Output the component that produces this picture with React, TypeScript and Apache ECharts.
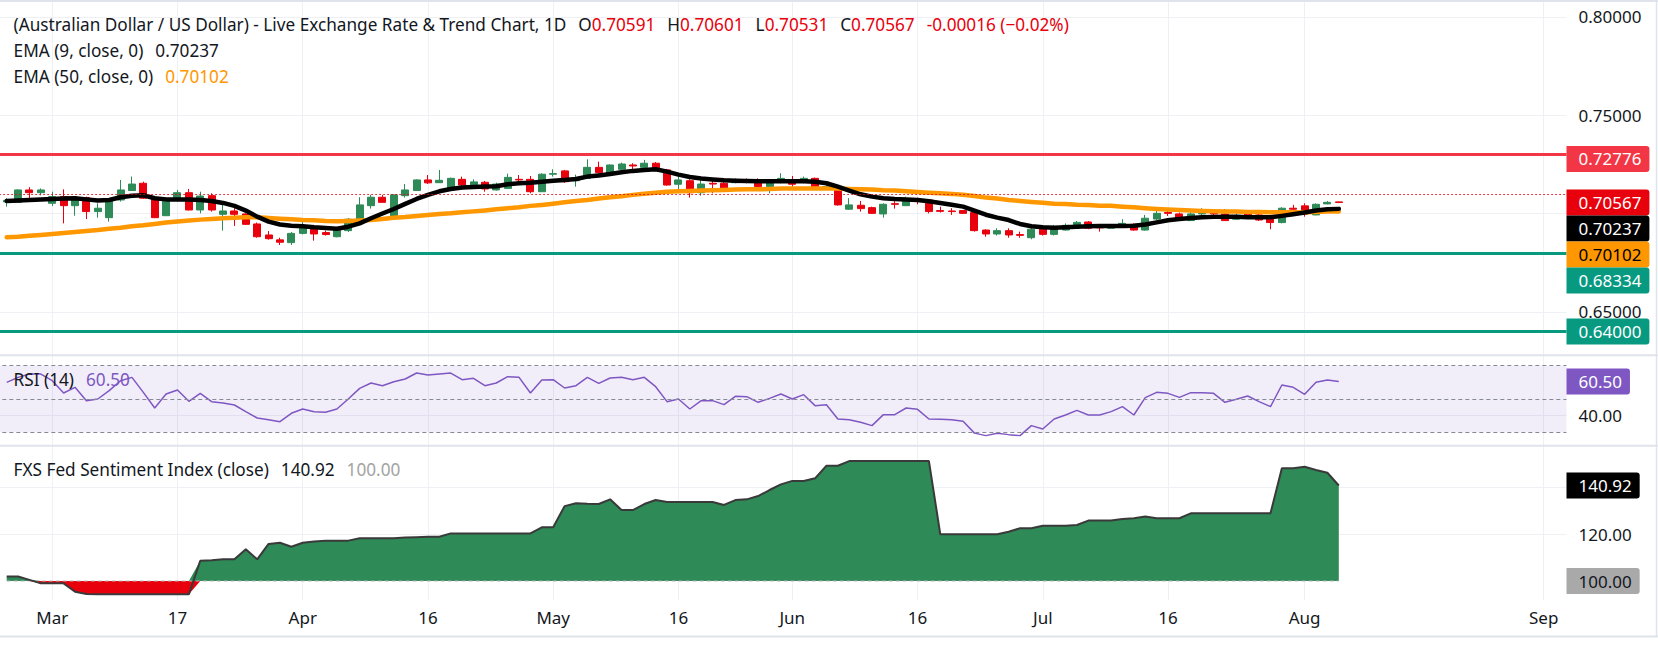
import React, { useEffect, useRef } from "react";
import * as echarts from "echarts";

const W = 1658;
const H = 647;
const FONT = '"Noto Sans", "DejaVu Sans", sans-serif';

// ---- data (daily bars, oldest first) ----
const OPEN = [
  0.7059, 0.7057, 0.7120, 0.7106, 0.7052, 0.7086, 0.7040, 0.7081, 0.7010, 0.6979,
  0.7069, 0.7117, 0.7154, 0.7078, 0.6989, 0.7069, 0.7106, 0.7018, 0.7091, 0.6996,
  0.7013, 0.6998, 0.6947, 0.6891, 0.6866, 0.6852, 0.6899, 0.6925, 0.6903, 0.6882,
  0.6913, 0.6971, 0.7040, 0.7083, 0.6988, 0.7091, 0.7117, 0.7171, 0.7157, 0.7120,
  0.7174, 0.7147, 0.7159, 0.7120, 0.7128, 0.7174, 0.7174, 0.7111, 0.7200, 0.7217,
  0.7167, 0.7179, 0.7235, 0.7205, 0.7225, 0.7247, 0.7235, 0.7256, 0.7222, 0.7149,
  0.7167, 0.7106, 0.7154, 0.7154, 0.7157, 0.7169, 0.7171, 0.7137, 0.7161, 0.7171,
  0.7159, 0.7179, 0.7133, 0.7137, 0.7022, 0.7042, 0.7030, 0.6998, 0.7050, 0.7040,
  0.7072, 0.7069, 0.7015, 0.7013, 0.7015, 0.7005, 0.6916, 0.6896, 0.6913, 0.6893,
  0.6877, 0.6920, 0.6894, 0.6916, 0.6933, 0.6957, 0.6930, 0.6925, 0.6940, 0.6945,
  0.6916, 0.6972, 0.7006, 0.6998, 0.6964, 0.6998, 0.7005, 0.6998, 0.6971, 0.7001,
  0.6993, 0.6979, 0.6954, 0.7027, 0.7039, 0.6993, 0.7049, 0.70591,
];
const CLOSE = [
  0.7067, 0.7120, 0.7106, 0.7120, 0.7086, 0.7040, 0.7078, 0.7010, 0.7027, 0.7074,
  0.7120, 0.7150, 0.7078, 0.6979, 0.7074, 0.7106, 0.7018, 0.7089, 0.7018, 0.7013,
  0.6996, 0.6945, 0.6882, 0.6872, 0.6854, 0.6899, 0.6928, 0.6896, 0.6893, 0.6920,
  0.6971, 0.7044, 0.7083, 0.7057, 0.7095, 0.7120, 0.7171, 0.7156, 0.7169, 0.7179,
  0.7145, 0.7161, 0.7125, 0.7150, 0.7184, 0.7171, 0.7111, 0.7200, 0.7203, 0.7162,
  0.7178, 0.7235, 0.7208, 0.7247, 0.7252, 0.7242, 0.7256, 0.7218, 0.7145, 0.7171,
  0.7106, 0.7150, 0.7150, 0.7127, 0.7171, 0.7166, 0.7137, 0.7166, 0.7179, 0.7149,
  0.7179, 0.7125, 0.7137, 0.7044, 0.7044, 0.7025, 0.7001, 0.7047, 0.7047, 0.7072,
  0.7069, 0.7010, 0.7011, 0.7010, 0.7001, 0.6913, 0.6896, 0.6913, 0.6891, 0.6889,
  0.6920, 0.6894, 0.6925, 0.6940, 0.6955, 0.6925, 0.6927, 0.6942, 0.6950, 0.6916,
  0.6976, 0.7001, 0.7001, 0.6974, 0.6998, 0.7001, 0.6998, 0.6964, 0.6989, 0.6989,
  0.6967, 0.6954, 0.7027, 0.7022, 0.6998, 0.7047, 0.7057, 0.70567,
];
const LOW = [
  0.7035, 0.7056, 0.7069, 0.7093, 0.7039, 0.6950, 0.6989, 0.6972, 0.6979, 0.6959,
  0.7061, 0.7115, 0.7074, 0.6977, 0.6988, 0.7061, 0.7016, 0.7001, 0.7010, 0.6913,
  0.6937, 0.6942, 0.6877, 0.6867, 0.6840, 0.6840, 0.6894, 0.6862, 0.6888, 0.6879,
  0.6906, 0.6967, 0.7025, 0.7056, 0.6986, 0.7081, 0.7115, 0.7150, 0.7156, 0.7117,
  0.7132, 0.7142, 0.7111, 0.7117, 0.7125, 0.7154, 0.7103, 0.7110, 0.7188, 0.7157,
  0.7137, 0.7176, 0.7205, 0.7203, 0.7217, 0.7213, 0.7230, 0.7217, 0.7142, 0.7123,
  0.7081, 0.7091, 0.7103, 0.7117, 0.7154, 0.7154, 0.7125, 0.7103, 0.7154, 0.7137,
  0.7154, 0.7123, 0.7123, 0.7040, 0.7018, 0.7010, 0.6998, 0.6979, 0.7025, 0.7039,
  0.7047, 0.7001, 0.7005, 0.6993, 0.6998, 0.6908, 0.6882, 0.6888, 0.6877, 0.6877,
  0.6869, 0.6888, 0.6888, 0.6913, 0.6925, 0.6920, 0.6908, 0.6922, 0.6937, 0.6913,
  0.6913, 0.6967, 0.6988, 0.6967, 0.6962, 0.6991, 0.6981, 0.6962, 0.6967, 0.6981,
  0.6962, 0.6920, 0.6950, 0.7005, 0.6984, 0.6991, 0.7047, 0.70531,
];
const HIGH = [
  0.7078, 0.7123, 0.7134, 0.7128, 0.7111, 0.7123, 0.7086, 0.7086, 0.7052, 0.7078,
  0.7171, 0.7188, 0.7162, 0.7089, 0.7083, 0.7120, 0.7125, 0.7111, 0.7103, 0.7044,
  0.7027, 0.7001, 0.6954, 0.6911, 0.6877, 0.6906, 0.6967, 0.6942, 0.6913, 0.6930,
  0.6976, 0.7083, 0.7095, 0.7095, 0.7098, 0.7150, 0.7174, 0.7196, 0.7222, 0.7183,
  0.7188, 0.7174, 0.7166, 0.7157, 0.7203, 0.7196, 0.7191, 0.7205, 0.7225, 0.7222,
  0.7198, 0.7276, 0.7264, 0.7250, 0.7259, 0.7256, 0.7273, 0.7262, 0.7227, 0.7188,
  0.7174, 0.7174, 0.7171, 0.7162, 0.7179, 0.7179, 0.7179, 0.7174, 0.7205, 0.7191,
  0.7188, 0.7183, 0.7149, 0.7140, 0.7078, 0.7064, 0.7035, 0.7052, 0.7064, 0.7086,
  0.7081, 0.7072, 0.7035, 0.7027, 0.7018, 0.7010, 0.6920, 0.6925, 0.6925, 0.6908,
  0.6930, 0.6933, 0.6942, 0.6950, 0.6962, 0.6962, 0.6945, 0.6947, 0.6971, 0.6950,
  0.6993, 0.7023, 0.7018, 0.7005, 0.7015, 0.7027, 0.7018, 0.7023, 0.7001, 0.7013,
  0.6998, 0.6993, 0.7032, 0.7044, 0.7052, 0.7052, 0.7064, 0.70601,
];
const EMA9 = [
  0.7064, 0.7066, 0.7069, 0.7072, 0.7074, 0.7076, 0.7078, 0.7072, 0.7066, 0.7069,
  0.7083, 0.7091, 0.7093, 0.7078, 0.7072, 0.7072, 0.7072, 0.7069, 0.7064, 0.7054,
  0.7039, 0.7015, 0.6984, 0.6959, 0.6944, 0.6938, 0.6935, 0.6930, 0.6927, 0.6923,
  0.6933, 0.6950, 0.6976, 0.7000, 0.7023, 0.7049, 0.7074, 0.7095, 0.7113, 0.7125,
  0.7132, 0.7135, 0.7137, 0.7139, 0.7149, 0.7154, 0.7157, 0.7162, 0.7167, 0.7171,
  0.7176, 0.7188, 0.7194, 0.7201, 0.7210, 0.7217, 0.7222, 0.7225, 0.7213, 0.7198,
  0.7186, 0.7178, 0.7173, 0.7169, 0.7167, 0.7166, 0.7164, 0.7164, 0.7164, 0.7164,
  0.7164, 0.7162, 0.7154, 0.7137, 0.7117, 0.7098, 0.7086, 0.7078, 0.7074, 0.7072,
  0.7069, 0.7062, 0.7054, 0.7045, 0.7035, 0.7015, 0.6994, 0.6979, 0.6967, 0.6947,
  0.6935, 0.6930, 0.6928, 0.6930, 0.6933, 0.6935, 0.6937, 0.6937, 0.6937, 0.6938,
  0.6944, 0.6955, 0.6966, 0.6972, 0.6977, 0.6981, 0.6983, 0.6984, 0.6983, 0.6981,
  0.6981, 0.6981, 0.6988, 0.6996, 0.7005, 0.7015, 0.7022, 0.70237,
];
const EMA50 = [
  0.6879, 0.6882, 0.6887, 0.6891, 0.6896, 0.6901, 0.6906, 0.6911, 0.6916, 0.6923,
  0.6928, 0.6935, 0.6940, 0.6947, 0.6954, 0.6959, 0.6964, 0.6969, 0.6972, 0.6976,
  0.6979, 0.6981, 0.6981, 0.6977, 0.6974, 0.6971, 0.6967, 0.6966, 0.6962, 0.6961,
  0.6962, 0.6964, 0.6967, 0.6972, 0.6979, 0.6982, 0.6988, 0.6993, 0.6998, 0.7001,
  0.7006, 0.7011, 0.7016, 0.7022, 0.7027, 0.7032, 0.7039, 0.7044, 0.7050, 0.7057,
  0.7064, 0.7069, 0.7076, 0.7083, 0.7088, 0.7095, 0.7101, 0.7106, 0.7111, 0.7113,
  0.7115, 0.7117, 0.7118, 0.7120, 0.7122, 0.7123, 0.7123, 0.7125, 0.7127, 0.7127,
  0.7128, 0.7128, 0.7128, 0.7127, 0.7125, 0.7123, 0.7122, 0.7118, 0.7117, 0.7113,
  0.7110, 0.7106, 0.7103, 0.7100, 0.7095, 0.7089, 0.7081, 0.7076, 0.7069, 0.7064,
  0.7059, 0.7055, 0.7050, 0.7049, 0.7045, 0.7044, 0.7040, 0.7039, 0.7035, 0.7032,
  0.7027, 0.7023, 0.7020, 0.7018, 0.7015, 0.7013, 0.7011, 0.7010, 0.7010, 0.7008,
  0.7008, 0.7006, 0.7006, 0.7006, 0.7006, 0.7008, 0.7010, 0.70102,
];
const RSI = [
  60, 63, 65, 65, 61, 53.6, 57, 49, 50, 55,
  61, 63, 54, 44.6, 53, 55.4, 48.6, 53.4, 48.4, 47.6,
  46.4, 42.4, 38.6, 37.6, 36.4, 41.4, 44, 42.4, 42, 44,
  50, 56.4, 59.6, 58, 60.4, 62, 65.6, 64.4, 65, 65.6,
  61.6, 62.4, 58, 59.6, 63.4, 63, 53.6, 61.4, 61.6, 56.6,
  58, 63, 59.4, 62.6, 63, 61.6, 63, 57.4, 48.4, 50,
  44, 49, 49, 46.6, 51.6, 51.4, 48, 50.4, 53, 50,
  52.6, 46, 46.6, 38, 37.6, 36, 34, 40.6, 40.6, 44.6,
  43.8, 38, 37.8, 37.6, 36.6, 29.5, 28, 29.4, 28.6, 28,
  34, 32, 38, 40.4, 43.2, 40.4, 40.4, 42.4, 45.4, 40.4,
  50.8, 54, 53.4, 51, 53.8, 53.8, 53.4, 48, 49.8, 51.8,
  48.4, 45.4, 58.4, 57, 52.8, 60, 61.4, 60.5,
];
const FXS = [
  101.9, 101.9, 100.5, 99, 99, 99, 95.4, 94.4, 94.3, 94.3,
  94.3, 94.3, 94.3, 94.3, 94.3, 94.3, 94.3, 108.7, 108.9, 109.3,
  109.3, 113.6, 109.3, 115.9, 116.4, 114.7, 116.4, 116.9, 117.3, 117.3,
  117.3, 118.3, 118.3, 118.3, 118.3, 118.6, 118.8, 119, 119, 120.4,
  120.4, 120.4, 120.4, 120.4, 120.4, 120.4, 120.4, 123, 123, 132.1,
  133.3, 133.1, 133, 135, 130.4, 130.4, 133, 134.7, 133.9, 133.9,
  133.9, 133.9, 133.9, 132.6, 134.7, 135, 136.4, 139, 141.4, 142.9,
  142.9, 144, 149.4, 149.4, 151.4, 151.4, 151.4, 151.4, 151.4, 151.4,
  151.4, 151.4, 120, 120, 120, 120, 120, 120, 121.1, 122.6,
  122.6, 123.7, 123.7, 123.7, 124, 125.9, 125.9, 125.9, 126.6, 126.9,
  127.6, 126.9, 126.9, 126.9, 129, 129, 129, 129, 129, 129,
  129, 129, 148.3, 148.3, 149, 147.6, 146.4, 140.92,
];

const TIME_LABELS = ["Mar", "17", "Apr", "16", "May", "16", "Jun", "16", "Jul", "16", "Aug", "Sep"];
const TIME_LABEL_BARS = [4, 15, 26, 37, 48, 59, 69, 80, 91, 102, 114, 135];

const PRICE_GRID = [0.65, 0.7, 0.75, 0.8];
const PRICE_LABELS = [0.65, 0.75, 0.8];
const RSI_GRID = [40];
const RSI_LABELS = [40];
const RSI_LEVELS = [70, 50, 30];
const FXS_GRID = [120, 140];
const FXS_LABELS = [120];
const FXS_BASE = 100;

const RESISTANCE = 0.72776;
const SUPPORT_1 = 0.68334;
const SUPPORT_2 = 0.64;
const LAST = { open: 0.70591, high: 0.70601, low: 0.70531, close: 0.70567 };
const CHANGE = -0.00016;
const CHANGE_PCT = -0.02;

// ---- styling ----
const UP = "#2e8a57";
const DOWN = "#e8000d";
const TXT = "#131722";
const GRIDLINE = "#eef0f4";
const SEP = "#e0e3eb";
const PURPLE = "#7e57c2";
const ORANGE = "#ff9800";
const TEAL = "#089981";
const RES_RED = "#f23645";
const AXIS_FS = 17;
const LEGEND_FS = 17.2;

const SLOTS = 139; // one spare slot before the first bar, future slots after the last
const slotOf = (i: number) => i + 1;
const labelBySlot = new Map<number, string>();
TIME_LABEL_BARS.forEach((b, k) => labelBySlot.set(slotOf(b), TIME_LABELS[k]));
const CATS = Array.from({ length: SLOTS }, (_, k) => String(k));

const GRID_LEFT = -4.67;
const GRID_RIGHT = 91.5;
const PANES = [
  { top: 2, height: 353, min: 0.62802, max: 0.80763 },
  { top: 356, height: 89, min: 22.37, max: 75.83 },
  { top: 446.5, height: 153.5, min: 91.86, max: 157.65 },
];

function buildOption(): any {
  const bars = OPEN.map((_, i) => i);
  const xAxis = PANES.map((_, g) => ({
    type: "category",
    gridIndex: g,
    data: CATS,
    boundaryGap: false,
    axisLine: { show: false },
    axisTick: { show: false },
    axisLabel: {
      show: g === 2,
      interval: (idx: number) => labelBySlot.has(idx),
      formatter: (_v: string, idx: number) => labelBySlot.get(idx) ?? "",
      fontSize: AXIS_FS,
      fontFamily: FONT,
      color: TXT,
      margin: 9,
    },
    splitLine: {
      show: true,
      interval: (idx: number) => labelBySlot.has(idx),
      lineStyle: { color: GRIDLINE, width: 1 },
    },
  }));
  const yCommon = (g: number, grid: number[], labels: number[], digits: number) => ({
    type: "value",
    gridIndex: g,
    position: "right",
    min: PANES[g].min,
    max: PANES[g].max,
    axisLine: { show: false },
    axisTick: { show: false, customValues: grid },
    axisLabel: {
      customValues: labels,
      formatter: (v: number) => v.toFixed(digits),
      fontSize: AXIS_FS,
      fontFamily: FONT,
      color: TXT,
      margin: 12,
    },
    splitLine: { show: true, lineStyle: { color: GRIDLINE, width: 1 } },
  });

  return {
    animation: false,
    backgroundColor: "#ffffff",
    textStyle: { fontFamily: FONT },
    grid: PANES.map((p) => ({
      left: GRID_LEFT,
      right: GRID_RIGHT,
      top: p.top,
      height: p.height,
      outerBoundsMode: "none",
      containLabel: false,
    })),
    xAxis,
    yAxis: [
      yCommon(0, PRICE_GRID, PRICE_LABELS, 5),
      yCommon(1, RSI_GRID, RSI_LABELS, 2),
      yCommon(2, FXS_GRID, FXS_LABELS, 2),
    ],
    series: [
      {
        type: "candlestick",
        xAxisIndex: 0,
        yAxisIndex: 0,
        z: 2,
        barWidth: 7.5,
        encode: { x: 0, y: [1, 2, 3, 4] },
        data: bars.map((i) => [slotOf(i), OPEN[i], CLOSE[i], LOW[i], HIGH[i]]),
        itemStyle: {
          color: UP,
          color0: DOWN,
          borderColor: UP,
          borderColor0: DOWN,
          borderWidth: 1,
        },
        markLine: {
          silent: true,
          symbol: ["none", "none"],
          label: { show: false },
          data: [
            { yAxis: LAST.close, lineStyle: { color: DOWN, width: 1, type: [1.5, 2.5] } },
            { yAxis: RESISTANCE, lineStyle: { color: RES_RED, width: 3, type: "solid" } },
            { yAxis: SUPPORT_1, lineStyle: { color: TEAL, width: 3, type: "solid" } },
            { yAxis: SUPPORT_2, lineStyle: { color: TEAL, width: 3, type: "solid" } },
          ],
        },
      },
      {
        type: "line",
        name: "EMA50",
        xAxisIndex: 0,
        yAxisIndex: 0,
        z: 3,
        showSymbol: false,
        data: bars.map((i) => [slotOf(i), EMA50[i]]),
        lineStyle: { color: ORANGE, width: 4.5, cap: "round", join: "round" },
      },
      {
        type: "line",
        name: "EMA9",
        xAxisIndex: 0,
        yAxisIndex: 0,
        z: 4,
        showSymbol: false,
        data: bars.map((i) => [slotOf(i), EMA9[i]]),
        lineStyle: { color: "#000000", width: 4.5, cap: "round", join: "round" },
      },
      {
        type: "line",
        name: "RSI",
        xAxisIndex: 1,
        yAxisIndex: 1,
        z: 3,
        showSymbol: false,
        data: bars.map((i) => [slotOf(i), RSI[i]]),
        lineStyle: { color: PURPLE, width: 1.5 },
        markArea: {
          silent: true,
          itemStyle: { color: "rgba(126,87,194,0.1)" },
          data: [[{ yAxis: RSI_LEVELS[0] }, { yAxis: RSI_LEVELS[2] }]],
        },
        markLine: {
          silent: true,
          symbol: ["none", "none"],
          label: { show: false },
          lineStyle: { color: "#878a94", width: 1, type: [4, 3] },
          data: RSI_LEVELS.map((v) => ({ yAxis: v })),
        },
      },
      {
        type: "line",
        name: "FXS up",
        xAxisIndex: 2,
        yAxisIndex: 2,
        z: 2,
        showSymbol: false,
        data: bars.map((i) => [slotOf(i), Math.max(FXS[i], FXS_BASE)]),
        lineStyle: { width: 0, color: UP },
        areaStyle: { color: UP, opacity: 1, origin: FXS_BASE },
      },
      {
        type: "line",
        name: "FXS down",
        xAxisIndex: 2,
        yAxisIndex: 2,
        z: 2,
        showSymbol: false,
        data: bars.map((i) => [slotOf(i), Math.min(FXS[i], FXS_BASE)]),
        lineStyle: { width: 0, color: DOWN },
        areaStyle: { color: DOWN, opacity: 1, origin: FXS_BASE },
      },
      {
        type: "line",
        name: "FXS base",
        xAxisIndex: 2,
        yAxisIndex: 2,
        z: 3,
        showSymbol: false,
        data: bars.map((i) => [slotOf(i), FXS_BASE]),
        lineStyle: { color: "#b8b8b8", width: 1, type: [4, 3] },
      },
      {
        type: "line",
        name: "FXS",
        xAxisIndex: 2,
        yAxisIndex: 2,
        z: 4,
        showSymbol: false,
        data: bars.map((i) => [slotOf(i), FXS[i]]),
        lineStyle: { color: "#3a3a3a", width: 2 },
      },
    ],
  };
}

function badge(x: number, y: number, text: string, bg: string, fg: string, id: string) {
  return {
    type: "text",
    id,
    x,
    y,
    z: 100,
    style: {
      text,
      fill: fg,
      backgroundColor: bg,
      padding: [5, 8, 5, 12],
      borderRadius: [0, 3, 3, 0],
      fontSize: AXIS_FS,
      fontFamily: FONT,
      lineHeight: 16,
      align: "left",
      verticalAlign: "middle",
    },
  };
}

function legend(y: number, text: string, rich: any, id: string) {
  return {
    type: "text",
    id,
    x: 13.6,
    y,
    z: 100,
    style: {
      text,
      fontSize: LEGEND_FS,
      fontFamily: FONT,
      fill: TXT,
      verticalAlign: "middle",
      align: "left",
      rich,
    },
  };
}

const seg = (fill: string, gap = 0) => ({
  fill,
  fontSize: LEGEND_FS,
  fontFamily: FONT,
  padding: [0, 0, 0, gap],
});

function buildGraphic(chart: any): any[] {
  const rightX = chart.convertToPixel({ xAxisIndex: 0 }, SLOTS - 1);
  const yPx = (axis: number, v: number) => chart.convertToPixel({ yAxisIndex: axis }, v);
  const ema9Last = EMA9[EMA9.length - 1];
  const ema50Last = EMA50[EMA50.length - 1];
  const rsiLast = RSI[RSI.length - 1];
  const fxsLast = FXS[FXS.length - 1];

  const BOX = 26;
  const priceBadges = [
    { v: RESISTANCE, bg: RES_RED, fg: "#fff" },
    { v: LAST.close, bg: DOWN, fg: "#fff" },
    { v: ema9Last, bg: "#000", fg: "#fff" },
    { v: ema50Last, bg: ORANGE, fg: "#000" },
    { v: SUPPORT_1, bg: TEAL, fg: "#fff" },
    { v: SUPPORT_2, bg: TEAL, fg: "#fff" },
  ]
    .map((b) => ({ ...b, y: yPx(0, b.v) }))
    .sort((a, b) => a.y - b.y);
  let prevBottom = -Infinity;
  const out: any[] = [];
  priceBadges.forEach((b, k) => {
    const top = Math.max(b.y - BOX / 2, prevBottom);
    prevBottom = top + BOX;
    out.push(badge(rightX, top + BOX / 2, b.v.toFixed(5), b.bg, b.fg, "pb" + k));
  });
  out.push(badge(rightX, yPx(1, rsiLast), rsiLast.toFixed(2), PURPLE, "#fff", "rsib"));
  out.push(badge(rightX, yPx(2, fxsLast), fxsLast.toFixed(2), "#000", "#fff", "fxb"));
  out.push(badge(rightX, yPx(2, FXS_BASE), FXS_BASE.toFixed(2), "#a9a9a9", TXT, "fxbase"));

  const sign = CHANGE < 0 ? "-" : "+";
  const changeTxt = `${sign}${Math.abs(CHANGE).toFixed(5)} (${CHANGE_PCT < 0 ? "\u2212" : "+"}${Math.abs(CHANGE_PCT).toFixed(2)}%)`;
  out.push(
    legend(
      24,
      `{k|(Australian Dollar / US Dollar) - Live Exchange Rate & Trend Chart, 1D}{g|O}{r|${LAST.open.toFixed(5)}}{g|H}{r|${LAST.high.toFixed(5)}}{g|L}{r|${LAST.low.toFixed(5)}}{g|C}{r|${LAST.close.toFixed(5)}}{rg|${changeTxt}}`,
      { k: seg(TXT), g: seg(TXT, 12), r: seg(DOWN), rg: seg(DOWN, 12) },
      "title"
    )
  );
  out.push(legend(50, `{k|EMA (9, close, 0)}{v|${ema9Last.toFixed(5)}}`, { k: seg(TXT), v: seg(TXT, 12) }, "ema9"));
  out.push(legend(76, `{k|EMA (50, close, 0)}{v|${ema50Last.toFixed(5)}}`, { k: seg(TXT), v: seg(ORANGE, 12) }, "ema50"));
  out.push(legend(379.3, `{k|RSI (14)}{v|${rsiLast.toFixed(2)}}`, { k: seg(TXT), v: seg(PURPLE, 12) }, "rsil"));
  out.push(
    legend(
      469.3,
      `{k|FXS Fed Sentiment Index (close)}{v|${fxsLast.toFixed(2)}}{g|${FXS_BASE.toFixed(2)}}`,
      { k: seg(TXT), v: seg(TXT, 12), g: seg("#a3a3a3", 12) },
      "fxsl"
    )
  );

  const hline = (y: number, id: string) => ({
    type: "line",
    id,
    z: 90,
    shape: { x1: 0, y1: y, x2: W, y2: y },
    style: { stroke: SEP, lineWidth: 2 },
  });
  out.push(hline(1, "frameTop"));
  out.push(hline(355.2, "sep1"));
  out.push(hline(445.8, "sep2"));
  out.push(hline(636.6, "frameBottom"));
  out.push({
    type: "line",
    id: "frameRight",
    z: 90,
    shape: { x1: 1656.5, y1: 0, x2: 1656.5, y2: 637 },
    style: { stroke: SEP, lineWidth: 1.5 },
  });
  return out;
}

export default function App() {
  const ref = useRef<HTMLDivElement>(null);
  useEffect(() => {
    const el = ref.current;
    if (!el) return;
    const chart = echarts.init(el, null, { renderer: "svg" });
    chart.setOption(buildOption());
    chart.setOption({ graphic: buildGraphic(chart) });
    return () => chart.dispose();
  }, []);
  return (
    <div
      ref={ref}
      style={{ position: "fixed", left: 0, top: 0, width: W, height: H, background: "#fff" }}
    />
  );
}
